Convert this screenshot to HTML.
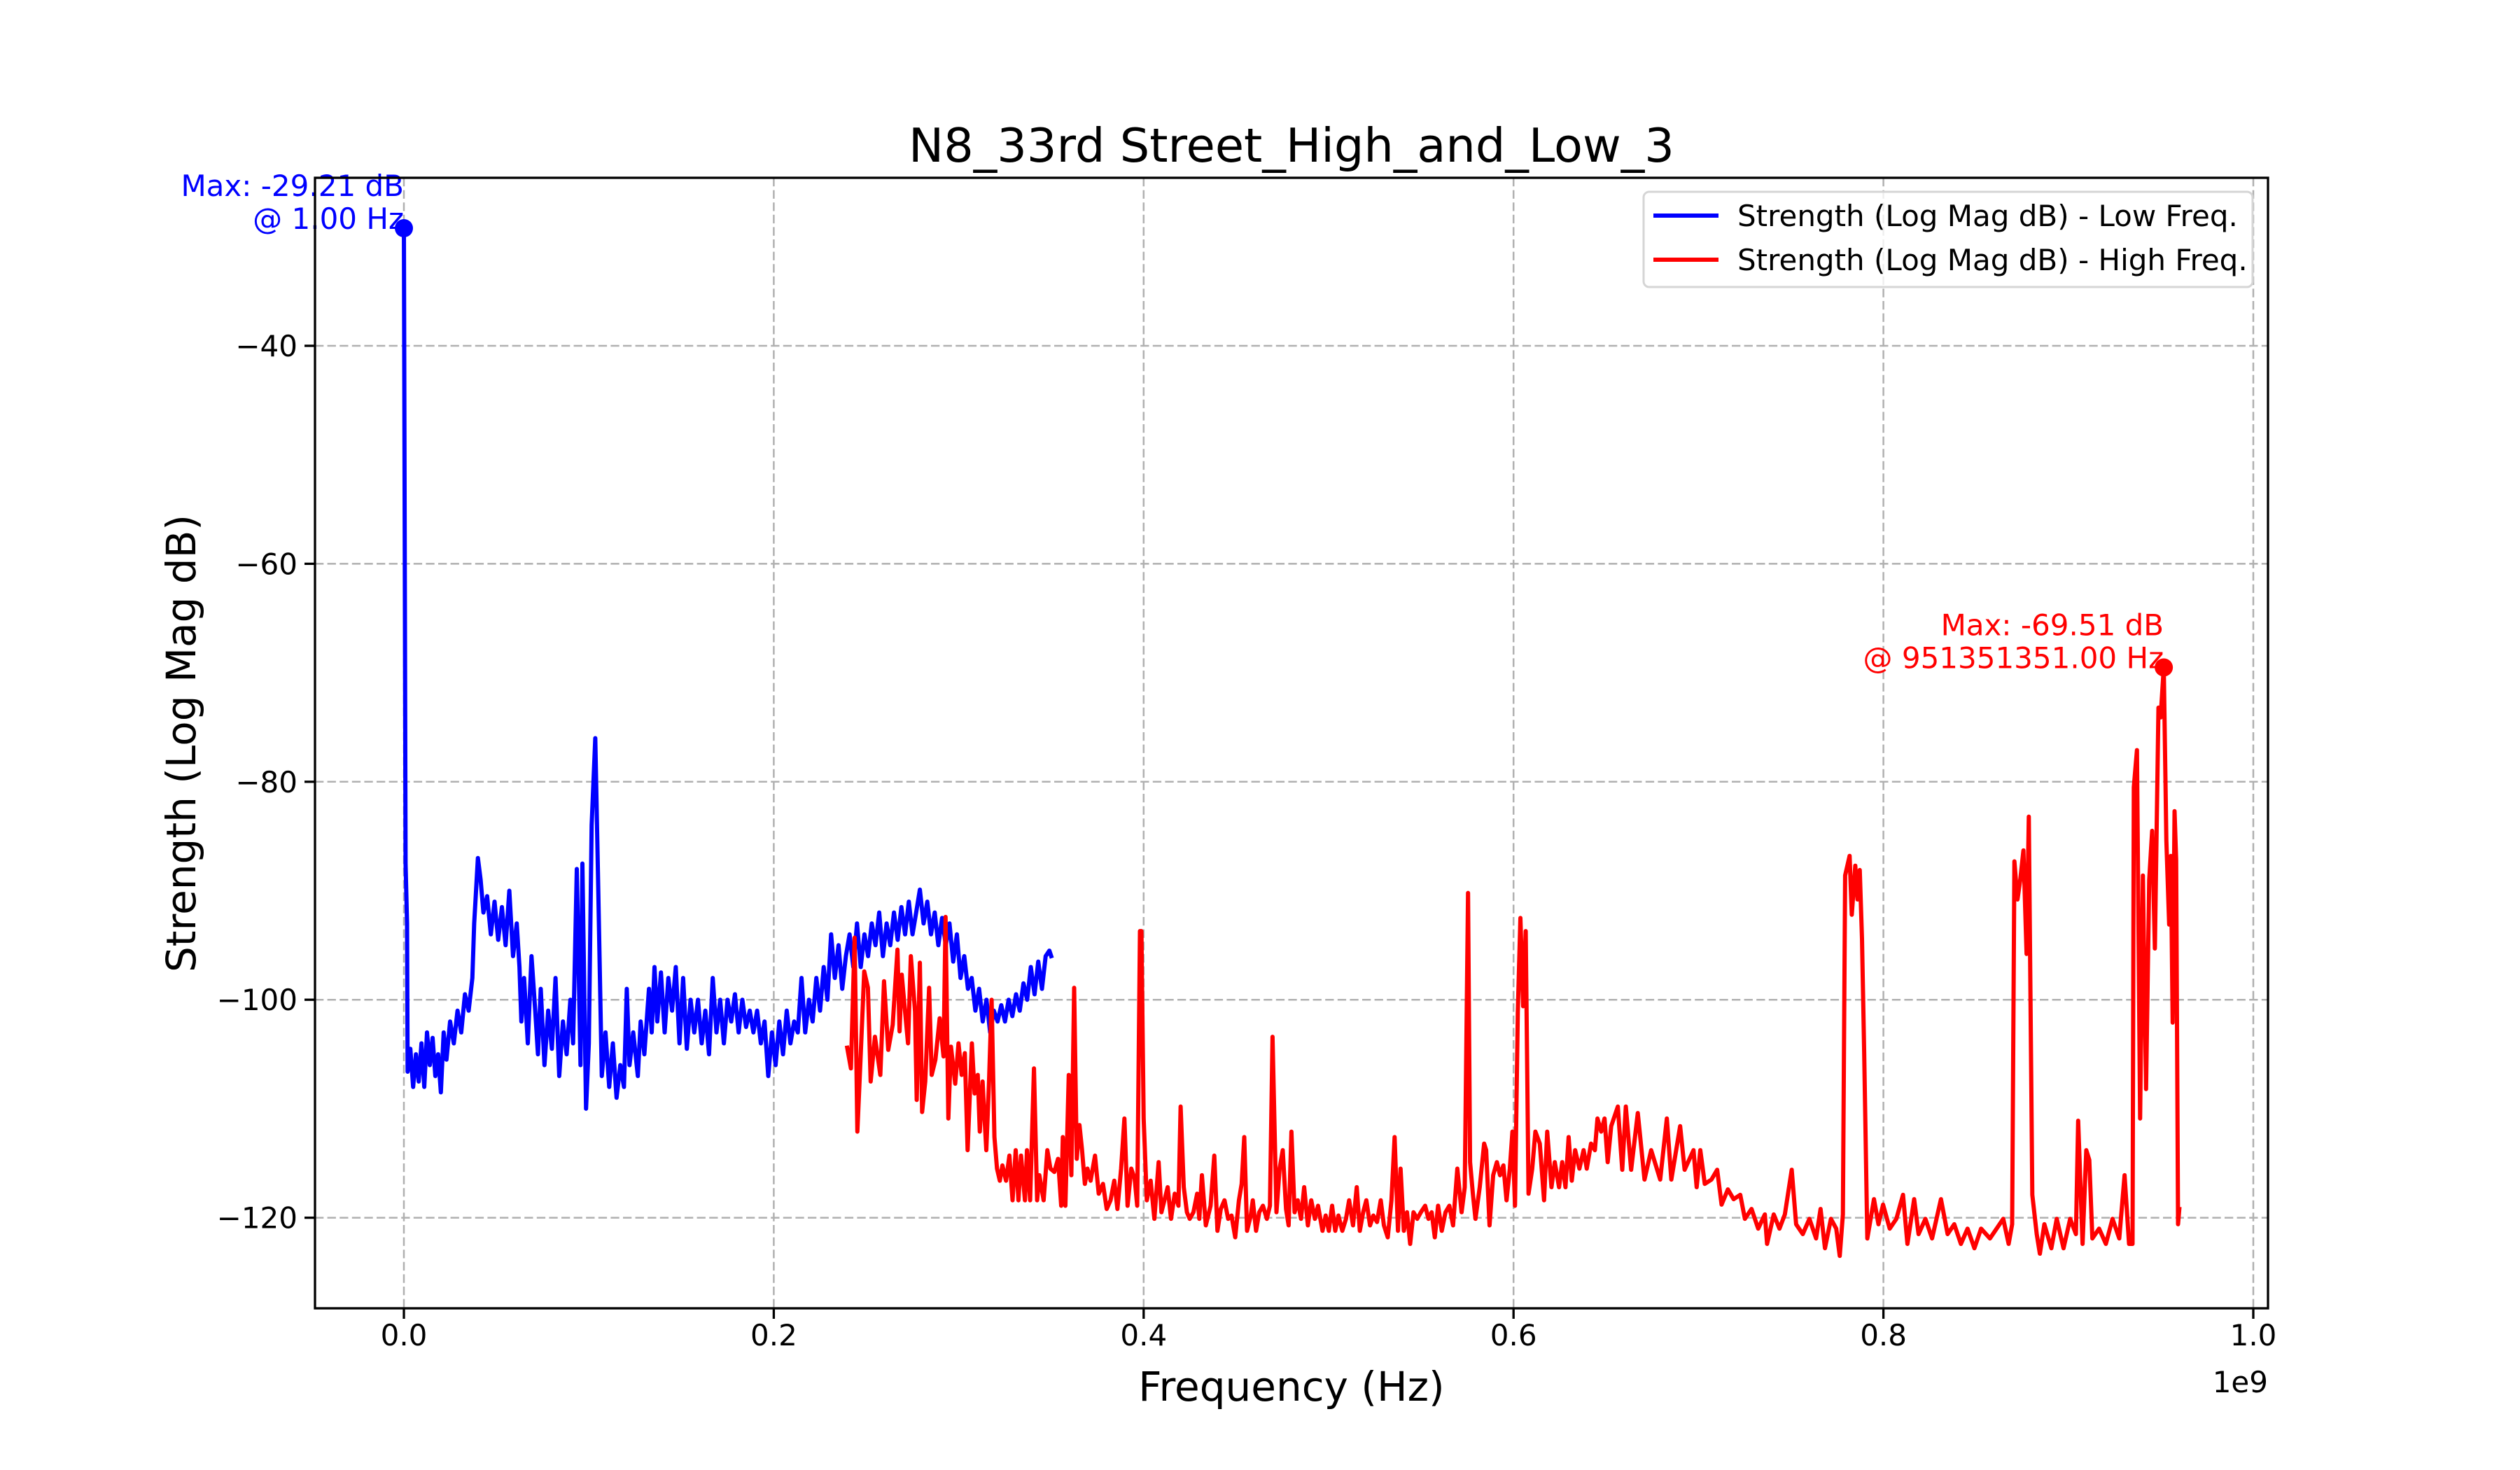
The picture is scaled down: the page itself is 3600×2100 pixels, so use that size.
<!DOCTYPE html>
<html><head><meta charset="utf-8"><style>
html,body{margin:0;padding:0;background:#fff;}
svg{display:block;font-family:"DejaVu Sans","Liberation Sans",sans-serif;}
</style></head><body>
<svg id="chart" width="3600" height="2100" viewBox="0 0 3600 2100" xmlns="http://www.w3.org/2000/svg">
<rect x="0" y="0" width="3600" height="2100" fill="#fff"/>
<defs><clipPath id="plotclip"><rect x="450" y="254" width="2790" height="1615"/></clipPath></defs>
<g id="grid"></g>
<g id="series" clip-path="url(#plotclip)"></g>
<g id="axes"></g>
<text x="1845" y="231" font-size="67" text-anchor="middle">N8_33rd Street_High_and_Low_3</text>
<text x="1845" y="2001" font-size="58" text-anchor="middle">Frequency (Hz)</text>
<text x="0" y="0" font-size="58" text-anchor="middle" transform="translate(279,1062) rotate(-90)">Strength (Log Mag dB)</text>
<text x="3240" y="1989" font-size="42" text-anchor="end">1e9</text>
<g id="legend">
<rect x="2348" y="274" width="870" height="136" rx="8" fill="#fff" fill-opacity="0.8" stroke="#d5d5d5" stroke-width="3"/>
<line x1="2362" y1="308" x2="2455" y2="308" stroke="#0000ff" stroke-width="6"/>
<text x="2482" y="323" font-size="42">Strength (Log Mag dB) - Low Freq.</text>
<line x1="2362" y1="371" x2="2455" y2="371" stroke="#ff0000" stroke-width="6"/>
<text x="2482" y="386" font-size="42">Strength (Log Mag dB) - High Freq.</text>
</g>
</svg>
<script>
const xTicks = [0.0, 0.2, 0.4, 0.6, 0.8, 1.0];
const xTickLabels = ["0.0","0.2","0.4","0.6","0.8","1.0"];
const yTicks = [-40, -60, -80, -100, -120];
const yTickLabels = ["\u221240","\u221260","\u221280","\u2212100","\u2212120"];
const lowMax = [0.0, -29.21];
const highMax = [0.9516, -69.51];
const lowData = [
[0.0000,-29.2],[0.0009,-87.5],[0.0017,-93],[0.0020,-106.6],[0.0035,-104.5],[0.0050,-108],[0.0065,-105],[0.0080,-107.5],[0.0095,-104],[0.011,-108],[0.0125,-103],[0.014,-106],[0.0155,-103.5],[0.017,-107],[0.0185,-105],[0.020,-108.5],[0.0215,-103],[0.023,-105.5],[0.025,-102],[0.027,-104],[0.029,-101],[0.031,-103],[0.033,-99.5],[0.035,-101],[0.037,-98],[0.038,-93],[0.040,-87],[0.0415,-89],[0.043,-92],[0.045,-90.5],[0.047,-94],[0.049,-91],[0.051,-94.5],[0.053,-91.5],[0.055,-95],[0.057,-90],[0.059,-96],[0.061,-93],[0.0625,-97],[0.0635,-102],[0.065,-98],[0.067,-104],[0.069,-96],[0.071,-101],[0.0725,-105],[0.074,-99],[0.076,-106],[0.078,-101],[0.080,-104.5],[0.082,-98],[0.084,-107],[0.086,-102],[0.088,-105],[0.090,-100],[0.0915,-104],[0.0935,-88],[0.0955,-106],[0.0965,-87.5],[0.0985,-110],[0.1000,-104],[0.1015,-84],[0.1035,-76],[0.1050,-89],[0.1070,-107],[0.109,-103],[0.111,-108],[0.113,-104],[0.115,-109],[0.117,-106],[0.119,-108],[0.1205,-99],[0.122,-106],[0.124,-103],[0.1265,-107],[0.128,-102],[0.130,-105],[0.1325,-99],[0.134,-103],[0.1355,-97],[0.137,-102],[0.139,-97.5],[0.141,-103],[0.143,-98],[0.145,-101],[0.147,-97],[0.149,-104],[0.151,-98],[0.153,-104.5],[0.155,-100],[0.157,-103],[0.159,-100],[0.161,-104],[0.163,-101],[0.165,-105],[0.167,-98],[0.169,-103],[0.171,-100],[0.173,-104],[0.175,-100],[0.177,-102],[0.179,-99.5],[0.181,-103],[0.183,-100],[0.185,-102.5],[0.187,-101],[0.189,-103],[0.191,-101],[0.193,-104],[0.195,-102],[0.197,-107],[0.199,-103],[0.201,-106],[0.203,-102],[0.205,-105],[0.207,-101],[0.209,-104],[0.211,-102],[0.213,-103],[0.215,-98],[0.217,-103],[0.219,-100],[0.221,-102],[0.223,-98],[0.225,-101],[0.227,-97],[0.229,-100],[0.231,-94],[0.233,-98],[0.235,-95],[0.237,-99],[0.239,-96],[0.241,-94],[0.243,-97],[0.245,-93],[0.247,-97],[0.249,-94],[0.251,-96],[0.253,-93],[0.255,-95],[0.257,-92],[0.259,-96],[0.261,-93],[0.263,-95],[0.265,-92],[0.267,-94.5],[0.269,-91.5],[0.271,-94],[0.273,-91],[0.275,-94],[0.277,-92],[0.279,-89.9],[0.281,-93],[0.283,-91],[0.285,-94],[0.287,-92],[0.289,-95],[0.291,-92.5],[0.293,-95],[0.295,-93],[0.297,-96.5],[0.299,-94],[0.301,-98],[0.303,-96],[0.305,-99],[0.307,-98],[0.309,-101],[0.311,-99],[0.313,-102],[0.315,-100],[0.317,-103],[0.319,-101],[0.321,-102],[0.323,-100.5],[0.325,-102],[0.327,-100],[0.329,-101.5],[0.331,-99.5],[0.333,-101],[0.335,-98.5],[0.337,-100],[0.339,-97],[0.341,-99.5],[0.343,-96.5],[0.345,-99],[0.347,-96],[0.349,-95.5],[0.350,-96]
];
const highData = [
[.2397,-104.4],[.2417,-106.3],[.2437,-94.3],[.2452,-112.1],[.2469,-105.5],[.2489,-97.4],[.2509,-98.9],[.2524,-107.5],[.2547,-103.4],[.2576,-106.9],[.2596,-98.3],[.2619,-104.6],[.2643,-102.3],[.2669,-95.4],[.2680,-102.9],[.2692,-97.7],[.2709,-100.9],[.2726,-104.0],[.2741,-96.0],[.2764,-101.1],[.2773,-109.2],[.2790,-96.6],[.2802,-110.3],[.2819,-107.5],[.2840,-98.9],[.2854,-106.9],[.2874,-105.5],[.2897,-101.7],[.2918,-105.2],[.2929,-92.4],[.2944,-110.9],[.2958,-104.3],[.2981,-107.7],[.2999,-104.0],[.3016,-106.9],[.3033,-104.9],[.3048,-113.8],[.3071,-104.0],[.3086,-108.6],[.3103,-106.9],[.3114,-112.1],[.3129,-107.5],[.3149,-113.8],[.3164,-107.5],[.3178,-100.0],[.3193,-112.6],[.3207,-115.5],[.3222,-116.6],[.3236,-115.2],[.3256,-116.6],[.3274,-114.3],[.3291,-118.4],[.3308,-113.8],[.3323,-118.4],[.3337,-114.3],[.3358,-118.4],[.3369,-113.8],[.3386,-118.4],[.3407,-106.3],[.3424,-118.4],[.3436,-116.1],[.3459,-118.4],[.3479,-113.8],[.3496,-115.5],[.3517,-115.8],[.3537,-114.6],[.3554,-118.9],[.3563,-112.6],[.3577,-118.9],[.3595,-106.9],[.3609,-116.1],[.3624,-98.9],[.3638,-114.6],[.3653,-111.5],[.3667,-113.8],[.3682,-116.9],[.3696,-115.5],[.3713,-116.6],[.3737,-114.3],[.3757,-117.8],[.3780,-116.9],[.3800,-119.2],[.3821,-118.4],[.3841,-116.6],[.3858,-119.2],[.3878,-115.5],[.3896,-110.9],[.3913,-118.9],[.3933,-115.5],[.3951,-116.4],[.3965,-118.9],[.3980,-93.7],[.3988,-93.7],[.4000,-110.9],[.4017,-118.4],[.4038,-116.6],[.4058,-120.1],[.4081,-114.9],[.4096,-119.5],[.4130,-117.2],[.4148,-120.1],[.4168,-117.8],[.4188,-118.9],[.4200,-109.8],[.4217,-117.2],[.4234,-119.5],[.4249,-120.1],[.4269,-119.5],[.4289,-117.8],[.4301,-120.1],[.4315,-116.1],[.4336,-120.7],[.4362,-118.9],[.4382,-114.3],[.4399,-121.2],[.4417,-119.2],[.4437,-118.4],[.4457,-120.1],[.4475,-119.8],[.4495,-121.8],[.4515,-118.4],[.4530,-116.9],[.4544,-112.6],[.4559,-121.2],[.4579,-119.8],[.4590,-118.4],[.4608,-121.2],[.4625,-119.5],[.4645,-118.9],[.4666,-120.1],[.4683,-118.9],[.4697,-103.4],[.4718,-119.5],[.4735,-115.5],[.4752,-113.8],[.4770,-119.2],[.4784,-120.7],[.4799,-112.1],[.4816,-119.5],[.4833,-118.4],[.4851,-120.1],[.4868,-117.2],[.4888,-120.7],[.4906,-118.4],[.4926,-120.1],[.4943,-118.9],[.4967,-121.2],[.4984,-119.8],[.5001,-121.2],[.5019,-118.9],[.5036,-121.2],[.5053,-119.8],[.5074,-121.2],[.5094,-120.1],[.5111,-118.4],[.5132,-120.7],[.5152,-117.2],[.5169,-121.2],[.5187,-119.5],[.5204,-118.4],[.5224,-120.7],[.5242,-119.8],[.5262,-120.4],[.5282,-118.4],[.5299,-120.7],[.5320,-121.8],[.5340,-118.4],[.5357,-112.6],[.5375,-121.2],[.5389,-115.5],[.5407,-121.2],[.5424,-119.5],[.5441,-122.4],[.5459,-119.5],[.5479,-120.1],[.5499,-119.5],[.5522,-118.9],[.5540,-120.1],[.5557,-119.5],[.5574,-121.8],[.5592,-118.9],[.5612,-121.2],[.5632,-119.5],[.5653,-118.9],[.5673,-120.7],[.5696,-115.5],[.5719,-119.5],[.5736,-117.2],[.5754,-90.2],[.5765,-114.9],[.5780,-117.8],[.5794,-120.1],[.5817,-117.2],[.5841,-113.2],[.5852,-113.8],[.5870,-120.7],[.5890,-116.1],[.5910,-114.9],[.5927,-116.1],[.5945,-115.2],[.5962,-118.4],[.5980,-115.5],[.5994,-112.1],[.6008,-118.9],[.6023,-101.1],[.6037,-92.5],[.6052,-100.6],[.6066,-93.7],[.6081,-117.8],[.6101,-115.5],[.6118,-112.1],[.6142,-113.2],[.6165,-118.4],[.6182,-112.1],[.6205,-117.2],[.6223,-114.9],[.6246,-117.2],[.6263,-114.9],[.6281,-117.2],[.6298,-112.6],[.6315,-116.6],[.6333,-113.8],[.6356,-115.5],[.6379,-113.8],[.6396,-115.5],[.6419,-113.2],[.6440,-113.8],[.6454,-110.9],[.6474,-112.1],[.6492,-110.9],[.6509,-114.9],
[.6528,-111.6],[.6564,-109.8],[.6588,-115.6],[.6607,-109.8],[.6636,-115.6],[.6672,-110.4],[.6708,-116.5],[.6744,-113.8],[.6793,-116.5],[.6829,-110.9],[.6853,-116.5],[.6901,-111.6],[.6925,-115.6],[.6973,-113.8],[.6990,-117.2],[.7010,-113.8],[.7034,-116.9],[.7070,-116.5],[.7101,-115.6],[.7125,-118.8],[.7159,-117.4],[.7190,-118.3],[.7226,-117.9],[.7251,-120.1],[.7287,-119.2],[.7323,-121.0],[.7359,-119.7],[.7371,-122.4],[.7407,-119.7],[.7438,-121.0],[.7467,-119.7],[.7504,-115.6],[.7528,-120.6],[.7564,-121.5],[.7600,-120.1],[.7636,-121.9],[.7660,-119.2],[.7684,-122.8],[.7716,-120.1],[.7745,-121.0],[.7764,-123.5],[.7781,-119.7],[.7793,-88.6],[.7817,-86.8],[.7829,-92.2],[.7848,-87.7],[.7860,-90.8],[.7872,-88.1],[.7884,-94.4],[.7896,-104.8],[.7913,-121.9],[.7949,-118.3],[.7973,-120.6],[.7998,-118.8],[.8034,-121.0],[.8070,-120.1],[.8106,-117.9],[.8130,-122.4],[.8166,-118.3],[.8190,-121.5],[.8227,-120.1],[.8263,-121.9],[.8311,-118.3],[.8347,-121.5],[.8383,-120.6],[.8419,-122.4],[.8455,-121.0],[.8492,-122.8],[.8528,-121.0],[.8576,-121.9],[.8612,-121.0],[.8648,-120.1],[.8677,-122.4],[.8696,-120.6],[.8708,-87.3],[.8725,-90.8],[.8740,-89.0],[.8757,-86.3],[.8774,-95.8],[.8786,-83.2],[.8805,-117.9],[.8829,-121.5],[.8846,-123.3],[.8870,-120.6],[.8908,-122.8],[.8937,-120.1],[.8974,-122.8],[.9010,-120.1],[.9041,-121.5],[.9053,-111.1],[.9077,-122.4],[.9097,-113.8],[.9113,-114.7],[.9130,-121.9],[.9166,-121.0],[.9203,-122.4],[.9239,-120.1],[.9275,-121.9],[.9304,-116.1],[.9328,-122.4],[.9347,-122.4],[.9354,-80.5],[.9371,-77.1],[.9388,-110.9],[.9403,-88.6],[.9420,-108.2],[.9437,-89.0],[.9453,-84.5],[.9468,-95.3],[.9487,-73.2],[.9499,-74.1],[.9516,-69.51],[.9530,-85.4],[.9545,-93.1],[.9554,-86.8],[.9564,-102.1],[.9574,-82.7],[.9583,-87.2],[.9593,-120.6],[.9600,-119.2]
];

const NS = "http://www.w3.org/2000/svg";
const L = 450, R = 3240, T = 254, B = 1869;
const X0 = 577, XU = 2642;       // pixel of 0, pixels per 1e9 Hz
const Y40 = 494, YU = 15.57;     // pixel of -40 dB, pixels per dB
function xs(f){ return X0 + f * XU; }
function ys(v){ return Y40 - (v + 40) * YU; }
function mk(tag, attrs, parent){
  const e = document.createElementNS(NS, tag);
  for (const k in attrs) e.setAttribute(k, attrs[k]);
  parent.appendChild(e);
  return e;
}
const grid = document.getElementById('grid');
const axes = document.getElementById('axes');
const series = document.getElementById('series');

xTicks.forEach((t, i) => {
  const x = xs(t);
  const g = mk('line', {x1:x, y1:T, x2:x, y2:B, stroke:'#b0b0b0', 'stroke-width':2.5, 'stroke-dasharray':'12.3,5.3'}, grid);
  
  
  const tk = mk('line', {x1:x, y1:B, x2:x, y2:B+15, stroke:'#000', 'stroke-width':3.3}, axes);
  
  
  const tx = mk('text', {x:x, y:B+53, 'font-size':42, 'text-anchor':'middle'}, axes);
  tx.textContent = xTickLabels[i];
  
  
});
yTicks.forEach((t, i) => {
  const y = ys(t);
  const g = mk('line', {x1:L, y1:y, x2:R, y2:y, stroke:'#b0b0b0', 'stroke-width':2.5, 'stroke-dasharray':'12.3,5.3'}, grid);
  
  
  const tk = mk('line', {x1:L-15, y1:y, x2:L, y2:y, stroke:'#000', 'stroke-width':3.3}, axes);
  
  
  const tx = mk('text', {x:L-25, y:y+15, 'font-size':42, 'text-anchor':'end'}, axes);
  tx.textContent = yTickLabels[i];
  
  
});

function drawLine(data, color, name){
  const d = data.map((p, i) => (i ? 'L' : 'M') + xs(p[0]).toFixed(1) + ',' + ys(p[1]).toFixed(1)).join('');
  const p = mk('path', {d:d, fill:'none', stroke:color, 'stroke-width':6, 'stroke-linejoin':'round', 'stroke-linecap':'square'}, series);
  
  
}
drawLine(lowData, '#0000ff', 'low-freq-line');
drawLine(highData, '#ff0000', 'high-freq-line');

const m1 = mk('circle', {cx:xs(lowMax[0]), cy:ys(lowMax[1]), r:13, fill:'#0000ff'}, axes);


const m2 = mk('circle', {cx:xs(highMax[0]), cy:ys(highMax[1]), r:13, fill:'#ff0000'}, axes);



function annot(pt, color, l1, l2, name){
  const x = xs(pt[0]), y = ys(pt[1]);
  const a = mk('text', {x:x, y:y-46, 'font-size':42, 'text-anchor':'end', fill:color}, axes);
  a.textContent = l1;
  
  
  const b = mk('text', {x:x, y:y+1, 'font-size':42, 'text-anchor':'end', fill:color}, axes);
  b.textContent = l2;
  
  
}
annot(lowMax, '#0000ff', 'Max: -29.21 dB', '@ 1.00 Hz', 'low-max-annotation');
annot(highMax, '#ff0000', 'Max: -69.51 dB', '@ 951351351.00 Hz', 'high-max-annotation');

const frame = mk('rect', {x:L, y:T, width:R-L, height:B-T, fill:'none', stroke:'#000', 'stroke-width':3.3}, axes);


</script>
</body></html>
